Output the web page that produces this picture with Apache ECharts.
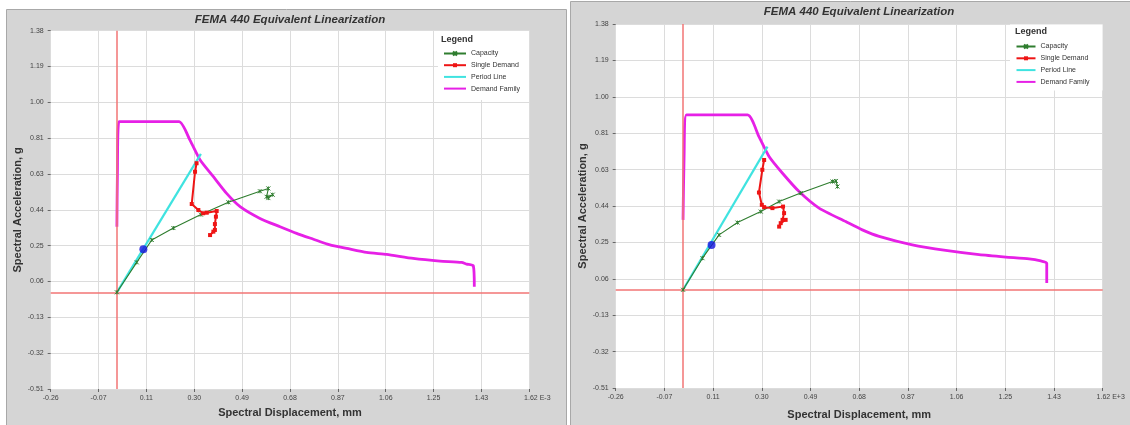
<!DOCTYPE html>
<html>
<head>
<meta charset="utf-8">
<script src="https://cdn.jsdelivr.net/npm/echarts@6/dist/echarts.min.js"></script>
<style>
  html, body { margin: 0; padding: 0; background: #ffffff; }
  #chart { width: 1130px; height: 425px; }
</style>
</head>
<body>
<div id="chart"></div>
<script>
// ---------- axis ticks ----------
const X_MIN = -0.26, X_MAX = 1.62, X_STEP = 0.188;
const Y_MIN = -0.51, Y_MAX = 1.38, Y_STEP = 0.189;
const xTickLabelsL = ['-0.26', '-0.07', '0.11', '0.30', '0.49', '0.68', '0.87', '1.06', '1.25', '1.43', '1.62 E-3'];
const xTickLabelsR = ['-0.26', '-0.07', '0.11', '0.30', '0.49', '0.68', '0.87', '1.06', '1.25', '1.43', '1.62 E+3'];
const yTickLabels = ['-0.51', '-0.32', '-0.13', '0.06', '0.25', '0.44', '0.63', '0.81', '1.00', '1.19', '1.38'];
const seriesNames = ['Capacity', 'Single Demand', 'Period Line', 'Demand Family'];

// ---------- left panel data [Sd, Sa] ----------
const capacityL = [[0, 0], [0.078, 0.158], [0.137, 0.276], [0.222, 0.339], [0.330, 0.410], [0.438, 0.475],
  [0.562, 0.533], [0.595, 0.548], [0.588, 0.504], [0.612, 0.515], [0.595, 0.497]];
const singleDemandL = [[0.313, 0.681], [0.307, 0.636], [0.294, 0.466], [0.320, 0.434], [0.339, 0.417],
  [0.353, 0.420], [0.392, 0.429], [0.389, 0.399], [0.385, 0.360], [0.385, 0.329], [0.379, 0.320], [0.366, 0.302]];
const periodLineL = [[0, 0], [0.330, 0.730]];
const perfPointL = [[0.104, 0.227]];
const demandFamilyL = [[0.000, 0.346], [0.002, 0.620], [0.008, 0.900], [0.244, 0.900], [0.287, 0.803],
  [0.327, 0.698], [0.379, 0.610], [0.431, 0.522], [0.484, 0.452], [0.562, 0.390], [0.641, 0.346],
  [0.706, 0.311], [0.772, 0.280], [0.837, 0.250], [0.903, 0.232], [0.981, 0.211], [1.060, 0.200],
  [1.164, 0.179], [1.269, 0.165], [1.354, 0.158], [1.374, 0.149], [1.400, 0.140], [1.404, 0.030]];

// ---------- right panel data [Sd, Sa] ----------
const capacityR = [[0, 0], [0.075, 0.164], [0.139, 0.285], [0.210, 0.349], [0.300, 0.406], [0.371, 0.458],
  [0.454, 0.502], [0.577, 0.562], [0.590, 0.565], [0.596, 0.536]];
const singleDemandR = [[0.313, 0.674], [0.306, 0.623], [0.293, 0.505], [0.304, 0.441], [0.313, 0.429],
  [0.345, 0.424], [0.386, 0.432], [0.390, 0.398], [0.384, 0.363], [0.396, 0.363], [0.377, 0.346], [0.371, 0.328]];
const periodLineR = [[0, 0], [0.326, 0.743]];
const perfPointR = [[0.110, 0.233]];
const demandFamilyR = [[0.000, 0.363], [0.004, 0.692], [0.013, 0.908], [0.249, 0.908], [0.293, 0.795],
  [0.332, 0.692], [0.384, 0.605], [0.448, 0.510], [0.525, 0.424], [0.628, 0.354], [0.692, 0.311],
  [0.757, 0.277], [0.885, 0.233], [1.014, 0.204], [1.143, 0.182], [1.246, 0.170], [1.336, 0.161],
  [1.381, 0.150], [1.404, 0.138], [1.404, 0.035]];

// ---------- styling ----------
const FONT = 'Arial, "Liberation Sans", sans-serif';
const C_GREEN = '#2f7d2f', C_RED = '#ee1515', C_CYAN = '#3fe3e0', C_MAG = '#e620e6', C_BLUE = '#1414e0', C_CROSS = '#f27474';
const X_SYMBOL = 'path://M0,0L10,10M10,0L0,10M5,0L5,10';

function xAxisCfg(gridIndex, labels, nameGap) {
  return {
    type: 'value', gridIndex, min: X_MIN, max: X_MAX, interval: X_STEP,
    name: 'Spectral Displacement, mm', nameLocation: 'middle', nameGap,
    nameTextStyle: { fontFamily: FONT, fontSize: 11, fontWeight: 'bold', color: '#333' },
    axisLine: { show: false, onZero: false },
    axisTick: { show: true, length: 3, lineStyle: { color: '#666', width: 1 } },
    axisLabel: {
      fontFamily: FONT, fontSize: 7, color: '#444', margin: 6,
      showMinLabel: true, showMaxLabel: true,
      formatter: (v) => {
        const i = Math.round((v - X_MIN) / X_STEP);
        const s = labels[i];
        return i === labels.length - 1 ? '{pad| }' + s : s;
      },
      rich: { pad: { width: 16, fontSize: 7 } }
    },
    splitLine: { show: true, lineStyle: { color: '#dcdcdc', width: 1 } }
  };
}
function yAxisCfg(gridIndex, nameGap) {
  return {
    type: 'value', gridIndex, min: Y_MIN, max: Y_MAX, interval: Y_STEP,
    name: 'Spectral Acceleration, g', nameLocation: 'middle', nameGap,
    nameTextStyle: { fontFamily: FONT, fontSize: 11, fontWeight: 'bold', color: '#333' },
    axisLine: { show: false, onZero: false },
    axisTick: { show: true, length: 3, lineStyle: { color: '#666', width: 1 } },
    axisLabel: {
      fontFamily: FONT, fontSize: 7, color: '#444', margin: 7,
      showMinLabel: true, showMaxLabel: true,
      formatter: (v) => yTickLabels[Math.round((v - Y_MIN) / Y_STEP)]
    },
    splitLine: { show: true, lineStyle: { color: '#dcdcdc', width: 1 } }
  };
}
function panelSeries(idx, cap, dem, per, pt, fam, crossWidth) {
  const crossStyle = { color: C_CROSS, width: crossWidth, type: 'solid', opacity: 1 };
  return [
    {
      name: 'cross' + idx, type: 'line', xAxisIndex: idx, yAxisIndex: idx, data: [], silent: true,
      itemStyle: { color: C_CROSS }, lineStyle: { color: C_CROSS },
      markLine: {
        silent: true, symbol: 'none', animation: false, label: { show: false },
        lineStyle: crossStyle,
        data: [{ xAxis: 0, lineStyle: crossStyle }, { yAxis: 0, lineStyle: crossStyle }]
      }
    },
    {
      name: 'Demand Family', type: 'line', xAxisIndex: idx, yAxisIndex: idx, data: fam,
      symbol: 'circle', showSymbol: false, smooth: 0.2,
      lineStyle: { color: C_MAG, width: 2.8 }, itemStyle: { color: C_MAG }, z: 3
    },
    {
      name: 'Period Line', type: 'line', xAxisIndex: idx, yAxisIndex: idx, data: per,
      symbol: 'circle', showSymbol: false,
      lineStyle: { color: C_CYAN, width: 2.2 }, itemStyle: { color: C_CYAN }, z: 4
    },
    {
      name: 'Capacity', type: 'line', xAxisIndex: idx, yAxisIndex: idx, data: cap,
      symbol: X_SYMBOL, symbolSize: 4, showAllSymbol: true,
      lineStyle: { color: C_GREEN, width: 1.1 },
      itemStyle: { color: C_GREEN, borderColor: C_GREEN, borderWidth: 1 }, z: 5
    },
    {
      name: 'Single Demand', type: 'line', xAxisIndex: idx, yAxisIndex: idx, data: dem,
      symbol: 'rect', symbolSize: 4, showAllSymbol: true,
      lineStyle: { color: C_RED, width: 2 }, itemStyle: { color: C_RED }, z: 6
    },
    {
      name: 'Performance Point', type: 'scatter', xAxisIndex: idx, yAxisIndex: idx, data: pt,
      symbol: 'circle', symbolSize: 8, itemStyle: { color: C_BLUE }, z: 7
    }
  ];
}
function legendCfg(left, top, itemWidth, gap) {
  return {
    orient: 'vertical', left, top, itemWidth, itemHeight: 5, itemGap: gap, padding: 0,
    data: [
      { name: 'Capacity' },
      { name: 'Single Demand' },
      { name: 'Period Line', itemStyle: { opacity: 0 } },
      { name: 'Demand Family', itemStyle: { opacity: 0 } }
    ],
    selectedMode: false, z: 8,
    textStyle: { fontFamily: FONT, fontSize: 7, color: '#333' }
  };
}

const chart = echarts.init(document.getElementById('chart'), null, { renderer: 'canvas' });
chart.setOption({
  animation: false,
  backgroundColor: '#ffffff',
  graphic: [
    { type: 'rect', z: -10, shape: { x: 6.5, y: 9.5, width: 560, height: 420 },
      style: { fill: '#d5d5d5', stroke: '#a8a8a8', lineWidth: 1 } },
    { type: 'rect', z: -10, shape: { x: 570.5, y: 1.5, width: 565, height: 430 },
      style: { fill: '#d5d5d5', stroke: '#a8a8a8', lineWidth: 1 } },
    { type: 'rect', z: 7, shape: { x: 438, y: 31, width: 91, height: 69 }, style: { fill: '#ffffff' } },
    { type: 'rect', z: 7, shape: { x: 1010, y: 24.5, width: 92.5, height: 66 }, style: { fill: '#ffffff' } }
  ],
  title: [
    { text: 'FEMA 440 Equivalent Linearization', left: 290, top: 14, textAlign: 'center', padding: 0,
      textStyle: { fontFamily: FONT, fontSize: 11.5, fontWeight: 'bold', fontStyle: 'italic', color: '#333' } },
    { text: 'FEMA 440 Equivalent Linearization', left: 859, top: 6, textAlign: 'center', padding: 0,
      textStyle: { fontFamily: FONT, fontSize: 11.5, fontWeight: 'bold', fontStyle: 'italic', color: '#333' } },
    { text: 'Legend', left: 441, top: 35, padding: 0, z: 8,
      textStyle: { fontFamily: FONT, fontSize: 9, fontWeight: 'bold', color: '#333' } },
    { text: 'Legend', left: 1015, top: 27.5, padding: 0, z: 8,
      textStyle: { fontFamily: FONT, fontSize: 9, fontWeight: 'bold', color: '#333' } }
  ],
  legend: [
    legendCfg(443, 50, 22, 4.7),
    legendCfg(1015.5, 43, 19, 4.8)
  ],
  grid: [
    { left: 50.7, top: 30.7, width: 478.6, height: 358.3, show: true, backgroundColor: '#ffffff', borderWidth: 0 },
    { left: 615.7, top: 24, width: 487, height: 364.3, show: true, backgroundColor: '#ffffff', borderWidth: 0 }
  ],
  xAxis: [xAxisCfg(0, xTickLabelsL, 18.5), xAxisCfg(1, xTickLabelsR, 21)],
  yAxis: [yAxisCfg(0, 27), yAxisCfg(1, 27)],
  series: [
    ...panelSeries(0, capacityL, singleDemandL, periodLineL, perfPointL, demandFamilyL, 1.5),
    ...panelSeries(1, capacityR, singleDemandR, periodLineR, perfPointR, demandFamilyR, 1.5)
  ]
});
</script>
</body>
</html>
